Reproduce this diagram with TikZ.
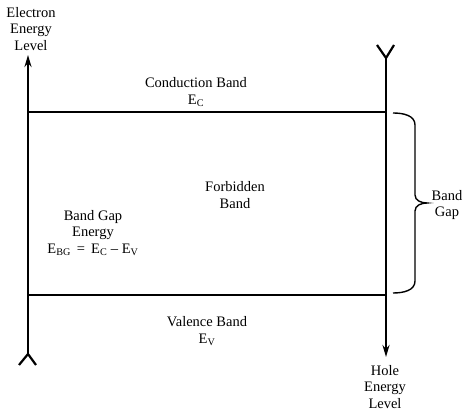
\documentclass[tikz,border=0pt]{standalone}
\usepackage{fontspec}
\setmainfont{Liberation Serif}
\usetikzlibrary{arrows.meta}
\tikzset{
  lbl/.style={align=center,inner sep=0pt,font=\fontsize{14.5}{16.5}\selectfont},
  axis/.style={line width=2.2pt},
  band/.style={line width=2pt},
}
\begin{document}
\begin{tikzpicture}[x=1pt,y=1pt]
			\useasboundingbox (0,0) rectangle (473,417);
			%truc
			\coordinate (eBot) at (28,63);
			\coordinate (eTop) at (28,362);
			\coordinate (hTop) at (386,359);
			\coordinate (hBot) at (386,60);
			\draw[axis,-{Stealth[length=12pt,width=7pt]}] (eBot) -- (eTop);
			\draw[axis] (eBot) -- +(-9,-11);
			\draw[axis] (eBot) -- +(8,-11);
			\draw[axis,-{Stealth[length=12pt,width=7pt]}] (hTop) -- (hBot);
			\draw[axis] (hTop) -- +(-9,13);
			\draw[axis] (hTop) -- +(8,13);
			%vung
			\coordinate (cL) at (28,305);
			\coordinate (cR) at (386,305);
			\coordinate (vL) at (28,122);
			\coordinate (vR) at (386,122);
			\draw[band] (cL) -- (cR);
			\draw[band] (vL) -- (vR);
			%ngoac
			\draw[line width=1.4pt] (393,304) to[out=0,in=90] (415,292) -- (415,222)
				to[out=-90,in=180] (427,214) to[out=180,in=90] (415,206) -- (415,136)
				to[out=-90,in=0] (393,124);
			%chu
			\node[lbl] (elec) at (31,388) {Electron\\Energy\\Level};
			\node[lbl] (hole) at (385,30) {Hole\\Energy\\Level};
			\node[lbl] (cond) at (196,325) {Conduction Band\\E\textsubscript{C}};
			\node[lbl] (forb) at (235,222) {Forbidden\\Band};
			\node[lbl] (bge) at (93,184) {Band Gap\\Energy\\E\textsubscript{BG}\, = \,E\textsubscript{C} – E\textsubscript{V}};
			\node[lbl] (val) at (207,86) {Valence Band\\E\textsubscript{V}};
			\node[lbl] (gap) at (447,212) {Band\\Gap};
\end{tikzpicture}
\end{document}
